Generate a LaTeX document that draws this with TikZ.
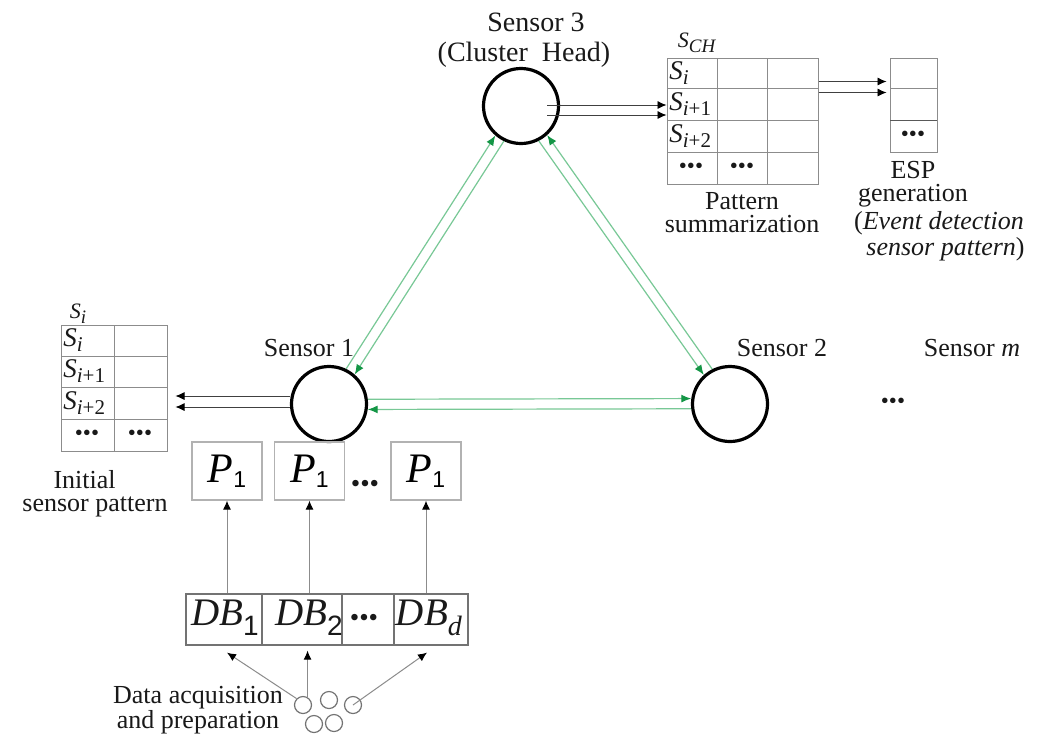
\documentclass[tikz,border=0pt]{standalone}
\usepackage{fontspec}
\setmainfont{Liberation Serif}
\newfontfamily\subsans{Liberation Sans}
\usetikzlibrary{arrows.meta,calc}
\definecolor{glight}{RGB}{120,200,150}
\definecolor{garr}{RGB}{20,150,70}
\newcommand\Sx[2]{{\fontsize{13.5}{15}\selectfont\textit{#1}\raisebox{-2.6pt}{\fontsize{10.5}{11}\selectfont #2}}}
\newcommand\tdots{{\fontsize{11.5}{11}\selectfont\textbullet\textbullet\textbullet}}
\newcommand\bdots{{\fontsize{13.5}{13}\selectfont\textbullet\textbullet\textbullet}}
\newcommand\Pone{{\fontsize{21}{22}\selectfont\textit{P}\raisebox{-2.5pt}{\subsans\fontsize{11.5}{12}\selectfont 1}}}
\tikzset{
  gtip/.tip={Latex[length=5pt,width=4pt,color=garr]},
  btip/.tip={Latex[length=4.5pt,width=4pt,color=black]},
  sensor/.style={circle, draw=black, line width=1.6pt, minimum size=37.5pt, inner sep=0pt},
  lbl/.style={inner sep=0pt, text=black!90},
  two/.style={inner sep=0pt, text=black!90, align=center, font=\fontsize{13}{11.5}\selectfont},
  gridline/.style={draw=black!45, line width=0.5pt},
  tblbox/.style={draw=black!45, line width=0.5pt, inner sep=0pt, rectangle},
  pbox/.style={draw=black!30, line width=0.6pt, minimum width=35pt, minimum height=29pt, inner sep=0pt},
  dbcell/.style={draw=black!55, line width=0.6pt, minimum height=25.5pt, inner sep=0pt},
  acq/.style={circle, draw=black!55, line width=0.6pt, minimum size=8.5pt, inner sep=0pt},
  barrow/.style={draw=black!75, line width=0.4pt, -btip},
  vline/.style={draw=black!45, line width=0.5pt, -btip},
  gline/.style={draw=glight, line width=0.6pt},
}
\begin{document}
\begin{tikzpicture}[x=0.5pt,y=-0.5pt,font=\fontsize{13}{15}\selectfont]
\fill[white] (0,0) rectangle (1043,735);
\useasboundingbox (0,0) rectangle (1043,735);

% sensors
\node[sensor] (s3) at (521,106) {};
\node[sensor] (s1) at (329,404) {};
\node[sensor] (s2) at (730,404) {};

\node[lbl, font=\fontsize{14}{16}\selectfont] (l3a) at (536,22) {Sensor 3};
\node[lbl, font=\fontsize{14}{16}\selectfont] (l3b) at (524,55) {(Cluster\ \ Head)};
\node[lbl] (l1) at (309,348) {Sensor 1};
\node[lbl] (l2) at (782,348) {Sensor 2};
\node[lbl] (lm) at (972,348) {Sensor \textit{m}};
\node[lbl] (mdots) at (893,403) {\tdots};

% green links
\draw[gline,-gtip] (s1.64.7) -- (s3.229.9);
\draw[gline,gtip-] (s1.49.9) -- (s3.244.7);
\draw[gline,gtip-] (s3.312.4) -- (s2.117.6);
\draw[gline,-gtip] (s3.297.6) -- (s2.132.4);
\draw[gline,-gtip] (s1.7.4) -- (s2.172.6);
\draw[gline,gtip-] (s1.352.6) -- (s2.187.4);

% S_CH table
\node[tblbox, minimum width=75.5pt, minimum height=63pt] (tch) at (742.5,121) {};
\draw[gridline] (717,58) -- (717,184);
\draw[gridline] (767,58) -- (767,184);
\draw[gridline] (667,88) -- (818,88);
\draw[gridline] (667,120) -- (818,120);
\draw[gridline] (667,152) -- (818,152);
\node[lbl] (tchl) at (697,43) {{\fontsize{11}{12}\selectfont\textit{S}\raisebox{-2.5pt}{\fontsize{9.5}{10}\selectfont\textit{CH}}}};
\node[lbl, anchor=west] (tch1) at (669,73) {\Sx{S}{\textit{i}}};
\node[lbl, anchor=west] (tch2) at (669,104) {\Sx{S}{\textit{i}+1}};
\node[lbl, anchor=west] (tch3) at (669,136) {\Sx{S}{\textit{i}+2}};
\node[lbl] (tch4) at (691,168) {\tdots};
\node[lbl] (tch5) at (742,168) {\tdots};
\node[two] (pat) at (742,213) {Pattern\\summarization};

% ESP table
\node[tblbox, minimum width=23.5pt, minimum height=47pt] (tesp) at (913.5,105) {};
\draw[gridline] (890,88) -- (937,88);
\draw[draw=black!65, line width=0.5pt] (890,120) -- (937,120);
\node[lbl] (espd) at (913,136) {\tdots};
\node[two] (esp) at (913,184) {ESP\\generation};
\node[two] (espx) at (939,236) {(\textit{Event detection}\\\hspace*{0.5em}\textit{sensor pattern})};

% arrows from S3
\coordinate (a1) at ($(s3.east)+(-13,-1)$);
\coordinate (a2) at ($(s3.east)+(-13,9)$);
\draw[barrow] (a1) -- (a1 -| tch.west);
\draw[barrow] (a2) -- (a2 -| tch.west);

% arrows to ESP
\coordinate (e1) at ($(tch.north east)+(0,24)$);
\coordinate (e2) at ($(tch.north east)+(0,35)$);
\draw[barrow] (e1) -- ($(e1 -| tesp.west)+(-3,0)$);
\draw[barrow] (e2) -- ($(e2 -| tesp.west)+(-3,0)$);

% left table
\node[tblbox, minimum width=53pt, minimum height=63pt] (tl) at (114,388) {};
\draw[gridline] (114,325) -- (114,451);
\draw[gridline] (61,356) -- (167,356);
\draw[gridline] (61,387) -- (167,387);
\draw[gridline] (61,419) -- (167,419);
\node[lbl] (tll) at (78,314) {{\fontsize{11}{12}\selectfont\textit{S}\raisebox{-2.5pt}{\fontsize{9.5}{10}\selectfont\textit{i}}}};
\node[lbl, anchor=west] (tl1) at (63,340) {\Sx{S}{\textit{i}}};
\node[lbl, anchor=west] (tl2) at (63,371) {\Sx{S}{\textit{i}+1}};
\node[lbl, anchor=west] (tl3) at (63,403) {\Sx{S}{\textit{i}+2}};
\node[lbl] (tl4) at (87,435) {\tdots};
\node[lbl] (tl5) at (140,435) {\tdots};
\node[two] (ini) at (95,494) {\hspace*{-0.8em}Initial\\sensor pattern};

\coordinate (b1) at ($(s1.west)+(0,-8)$);
\coordinate (b2) at ($(s1.west)+(0,3)$);
\draw[barrow] (b1) -- ($(b1 -| tl.east)+(8,0)$);
\draw[barrow] (b2) -- ($(b2 -| tl.east)+(8,0)$);

% P boxes
\node[pbox] (p1) at (227,471) {\Pone};
\node[pbox] (p2) at (309.5,471) {\Pone};
\node[pbox] (p3) at (426,471) {\Pone};
\node[lbl] (pdots) at (365,486) {\bdots};

% DB cells
\node[dbcell, minimum width=38pt] (db1) at (224,619.5) {};
\node[dbcell, minimum width=40pt] (db2) at (302,619.5) {};
\node[dbcell, minimum width=26pt] (dbx) at (368,619.5) {};
\node[dbcell, minimum width=37pt] (dbd) at (431,619.5) {};
\node[lbl] (dbt1) at (225,618) {{\fontsize{19.5}{21}\selectfont\textit{DB}\raisebox{-5pt}{\subsans\fontsize{14}{15}\selectfont 1}}};
\node[lbl] (dbt2) at (309,618) {{\fontsize{19.5}{21}\selectfont\textit{DB}\raisebox{-5pt}{\subsans\fontsize{14}{15}\selectfont 2}}};
\node[lbl] (dbtx) at (364,620) {\bdots};
\node[lbl] (dbtd) at (429,618) {{\fontsize{19.5}{21}\selectfont\textit{DB}\raisebox{-5pt}{\fontsize{14}{15}\selectfont\textit{d}}}};

\draw[vline] (db1.north -| p1.south) -- (p1.south);
\draw[vline] (db2.north -| p2.south) -- (p2.south);
\draw[vline] (dbd.north -| p3.south) -- (p3.south);

% data acquisition
\node[acq] (d1) at (303,705) {};
\node[acq] (d2) at (329,700) {};
\node[acq] (d3) at (353,705) {};
\node[acq] (d4) at (314,724) {};
\node[acq] (d5) at (334,723) {};
\node[two] (acq) at (198,710) {Data acquisition\\and preparation};

\draw[vline] (d1.135) -- ($(db1.south)+(3,7)$);
\draw[vline] (d1.60) -- ($(d1.60 |- db2.south)+(0,5)$);
\draw[vline] (d3.center) -- ($(dbd.south)+(-4,7)$);
\end{tikzpicture}
\end{document}
